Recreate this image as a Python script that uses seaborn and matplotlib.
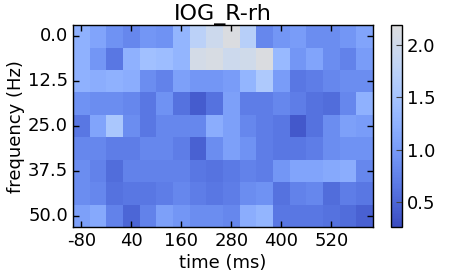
import numpy as np
import pandas as pd
import seaborn as sns
import matplotlib.pyplot as plt
from matplotlib.colors import ListedColormap

times = list(range(-80, 601, 40))  # 18 time bins (ms)
freqs = [0.0, 6.25, 12.5, 18.75, 25.0, 31.25, 37.5, 43.75, 50.0]  # Hz

# power values, one list per frequency row
row_00 = [1.25, 1.10, 0.90, 0.80, 0.95, 0.90, 1.30, 1.75, 1.95, 2.15, 1.70, 0.80, 0.95, 1.00, 0.85, 0.85, 0.95, 1.10]
row_06 = [1.25, 0.95, 0.65, 1.25, 1.45, 1.40, 1.30, 2.05, 2.10, 1.95, 2.00, 2.15, 1.35, 0.95, 1.10, 0.85, 0.75, 1.00]
row_12 = [1.25, 1.20, 1.25, 1.20, 0.85, 0.75, 1.05, 0.95, 0.95, 1.00, 1.30, 1.60, 1.00, 0.65, 0.70, 0.80, 0.85, 0.85]
row_18 = [0.90, 0.85, 0.85, 0.80, 0.65, 0.90, 0.60, 0.40, 0.60, 1.05, 0.70, 0.70, 0.80, 0.70, 0.60, 0.55, 0.80, 1.25]
row_25 = [0.65, 1.10, 1.55, 0.85, 0.65, 0.80, 0.80, 0.80, 1.20, 1.05, 0.80, 0.70, 0.65, 0.38, 0.60, 0.85, 1.05, 1.00]
row_31 = [0.80, 0.80, 0.70, 0.70, 0.80, 0.80, 0.70, 0.45, 0.85, 1.05, 0.90, 0.70, 0.65, 0.65, 0.70, 0.85, 0.90, 0.90]
row_37 = [0.85, 0.75, 0.55, 0.75, 0.75, 0.75, 0.75, 0.65, 0.62, 0.68, 0.75, 0.70, 0.95, 1.10, 1.10, 1.15, 1.20, 0.80]
row_43 = [0.85, 0.80, 0.60, 0.65, 0.65, 0.70, 0.80, 0.70, 0.65, 0.70, 0.85, 0.90, 0.60, 0.75, 0.80, 0.55, 0.70, 0.65]
row_50 = [1.05, 1.15, 0.75, 0.50, 0.75, 1.05, 0.95, 0.85, 0.85, 0.80, 1.20, 1.30, 0.65, 0.65, 0.65, 0.60, 0.55, 0.45]

data = pd.DataFrame([row_00, row_06, row_12, row_18, row_25, row_31, row_37, row_43, row_50],
                    index=freqs, columns=times)

# lower (blue) half of coolwarm
cmap = ListedColormap(plt.cm.coolwarm(np.linspace(0, 0.5, 256)))

fig = plt.figure(figsize=(4.5, 2.79), dpi=100)
ax = fig.add_axes([0.162, 0.186, 0.667, 0.724])
cax = fig.add_axes([0.869, 0.186, 0.0244, 0.724])

sns.heatmap(data, ax=ax, cbar_ax=cax, cmap=cmap, vmin=0.26, vmax=2.19,
            xticklabels=3, yticklabels=2)

for s in ax.spines.values():
    s.set_visible(True)
    s.set_color('black')
    s.set_linewidth(1)
ax.tick_params(direction='in', top=True, right=True, length=4, width=1,
               labelsize=13, color='black')
plt.setp(ax.get_yticklabels(), rotation=0)
plt.setp(ax.get_xticklabels(), rotation=0)
ax.set_title('IOG_R-rh', fontsize=16, pad=4)
ax.set_xlabel('time (ms)', fontsize=13, labelpad=3)
ax.set_ylabel('frequency (Hz)', fontsize=13, labelpad=2)

cb = ax.collections[0].colorbar
cb.outline.set_linewidth(1)
cb.outline.set_edgecolor('black')
cb.set_ticks([0.5, 1.0, 1.5, 2.0])
cax.tick_params(direction='in', length=4, labelsize=13, color='#444444')

fig.savefig('out.png', dpi=100)
